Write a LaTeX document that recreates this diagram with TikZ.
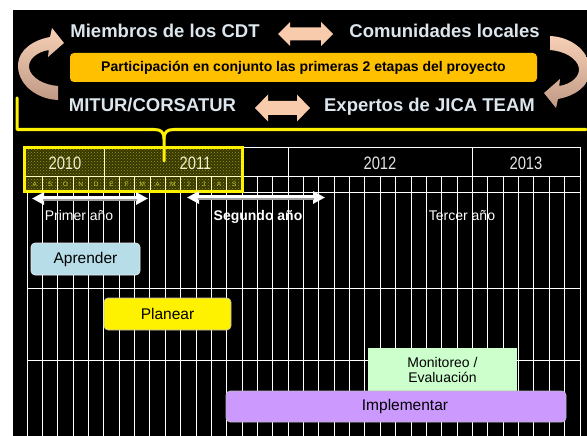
\documentclass[tikz,border=0pt]{standalone}
\usepackage{fontspec}
\setmainfont{Liberation Sans}
\newfontfamily\narrowfont[FakeStretch=0.82]{Liberation Sans}
\usetikzlibrary{patterns,arrows.meta}
\definecolor{hdrtext}{HTML}{DCE6EC}
\definecolor{peachlt}{HTML}{F6CFB5}
\definecolor{tanc}{HTML}{C09A85}
\definecolor{peach}{HTML}{F8CBAD}
\definecolor{goldbox}{HTML}{FFC000}
\definecolor{aprcol}{HTML}{B7DEE8}
\definecolor{moncol}{HTML}{CCFFCC}
\definecolor{impcol}{HTML}{CC99FF}
\definecolor{olivebg}{RGB}{55,55,0}
\definecolor{dotcol}{RGB}{150,150,20}
\definecolor{monthcol}{RGB}{205,205,50}
\definecolor{yrpale}{RGB}{240,240,205}
\tikzset{
  hdr/.style={font=\bfseries\fontsize{18.5}{20}\selectfont, text=hdrtext, inner sep=0pt, anchor=base},
  gridline/.style={white, line width=0.9pt},
  innerline/.style={white!75!yellow, line width=0.6pt},
  yearlbl/.style={font=\narrowfont\fontsize{18}{18}\selectfont, inner sep=0pt},
  monthlbl/.style={font=\fontsize{6.5}{7}\selectfont, text=monthcol, inner sep=0pt},
  yrlabel/.style={font=\fontsize{14}{15}\selectfont, text=white, inner sep=0pt, anchor=base},
  taskbox/.style={rounded corners=4pt, draw=gray!55, line width=0.6pt, inner sep=0pt,
    font=\fontsize{15.5}{17}\selectfont, text=black},
  yrarrow/.style={white, line width=5pt, {Triangle[length=12pt,width=12pt]}-{Triangle[length=12pt,width=12pt]}},
  blockarrow/.style={fill=peach},
  curvearrow/.style={top color=peachlt, bottom color=tanc},
}
\begin{document}
\begin{tikzpicture}[x=1pt,y=-1pt]
\useasboundingbox (0,0) rectangle (587,436);
\fill[white] (0,0) rectangle (587,436);
\fill[black] (13,10) rectangle (587,436);

% ---------- grid ----------
\foreach \i in {0,...,36} {
  \draw[gridline] ({27+\i*15.361},176) -- ({27+\i*15.361},436);
}
\foreach \xx in {27,103.8,288.1,472.5,580} {
  \draw[gridline] (\xx,147) -- (\xx,176);
}
\foreach \yy in {147,176,192,288,360} {
  \draw[gridline] (27,\yy) -- (580,\yy);
}

% ---------- highlighted period (Aug 2010 - Sep 2011) ----------
\fill[olivebg] (24,147) rectangle (242,191);
\fill[pattern=crosshatch dots, pattern color=dotcol] (24,147) rectangle (242,191);
\foreach \i in {1,...,13} {
  \draw[innerline] ({27+\i*15.361},176) -- ({27+\i*15.361},191);
}
\draw[innerline] (103.8,147) -- (103.8,176);
\draw[innerline] (24,176) -- (242,176);
\draw[yellow, line width=3pt] (24,147) rectangle (242,191);

\foreach \m [count=\i from 0] in {A,S,O,N,D,E,F,M,A,M,J,J,A,S} {
  \node[monthlbl] (m\i) at ({27+(\i+0.5)*15.361},184) {\m};
}

\node[yearlbl, text=yrpale] (y2010) at (65,163) {2010};
\node[yearlbl, text=yrpale] (y2011) at (195.5,163) {2011};
\node[yearlbl, text=white!90!black] (y2012) at (380,163) {2012};
\node[yearlbl, text=white!90!black] (y2013) at (526,163) {2013};

% ---------- yellow brace ----------
\draw[yellow, line width=3pt, line join=round, line cap=round]
  (17,98) -- (17,129.5) -- (154,129.5) .. controls (161,129.5) and (164,132) .. (164,139) -- (164,161);
\draw[yellow, line width=3pt, line join=round, line cap=round]
  (164,139) .. controls (164,132) and (167,129.5) .. (174,129.5) -- (586,129.5);

% ---------- header texts ----------
\node[hdr] (cdt) at (165,38) {Miembros de los CDT};
\node[hdr] (com) at (444.5,38) {Comunidades locales};
\node[hdr] (mitur) at (152.5,112) {MITUR/CORSATUR};
\node[hdr] (jica) at (429.5,112) {Expertos de JICA TEAM};

\node[rounded corners=4pt, fill=goldbox, minimum width=467pt, minimum height=29pt, inner sep=0pt,
      font=\bfseries\fontsize{14}{15}\selectfont, text=black] (part) at (303.5,67.5)
  {Participación en conjunto las primeras 2 etapas del proyecto};

% block double arrows
\fill[blockarrow] (278,34) -- (290,22) -- (290,27.5) -- (321,27.5) -- (321,22) -- (333,34)
  -- (321,46) -- (321,40.5) -- (290,40.5) -- (290,46) -- cycle;
\fill[blockarrow] (255,108) -- (268,94.5) -- (268,101) -- (297,101) -- (297,94.5) -- (310,108)
  -- (297,121.5) -- (297,115) -- (268,115) -- (268,121.5) -- cycle;

% curved arrows
\shade[curvearrow] (58,100) .. controls (35,99) and (17,83) .. (18,64)
  .. controls (19,50) and (33,40) .. (50,37) -- (52,28) -- (64,43) -- (48,57) -- (48.8,50)
  .. controls (36,52) and (28,60) .. (29,68) .. controls (31,78) and (44,85) .. (58,86) -- cycle;
\begin{scope}[rotate around={180:(304,68)}]
\shade[curvearrow] (58,100) .. controls (35,99) and (17,83) .. (18,64)
  .. controls (19,50) and (33,40) .. (50,37) -- (52,28) -- (64,43) -- (48,57) -- (48.8,50)
  .. controls (36,52) and (28,60) .. (29,68) .. controls (31,78) and (44,85) .. (58,86) -- cycle;
\end{scope}

% ---------- year arrows ----------
\coordinate (p1l) at (32,198.5);
\coordinate (p1r) at (148,198.5);
\coordinate (p2l) at (187,197.5);
\coordinate (p2r) at (325,197.5);
\draw[yrarrow] (p1l) -- (p1r);
\draw[gray!75, line width=2.2pt] ([xshift=11pt,yshift=-1.5pt]p1l) -- ([xshift=-11pt,yshift=-1.5pt]p1r);
\draw[yrarrow] (p2l) -- (p2r);
\draw[gray!75, line width=2.2pt] ([xshift=11pt,yshift=-1.5pt]p2l) -- ([xshift=-11pt,yshift=-1.5pt]p2r);

\node[yrlabel] (primer) at (79,220) {Primer año};
\node[yrlabel, font=\bfseries\fontsize{14}{15}\selectfont] (segundo) at (258,220) {Segundo año};
\node[yrlabel] (tercer) at (462,220) {Tercer año};

% ---------- tasks ----------
\node[taskbox, fill=aprcol, draw=white!85!gray, minimum width=109pt, minimum height=32pt] (aprender) at (85.5,259) {Aprender};
\node[taskbox, fill=yellow, minimum width=127pt, minimum height=32pt] (planear) at (167.5,314) {Planear};
\node[fill=moncol, minimum width=149pt, minimum height=43pt, inner sep=0pt, align=center,
      font=\fontsize{14}{15}\selectfont, text=black] (monitoreo) at (442.5,369.5) {Monitoreo /\\Evaluación};
\node[taskbox, fill=impcol, minimum width=340pt, minimum height=31pt] (implementar) at (396,406.5) {\hspace*{18pt}Implementar};
\end{tikzpicture}
\end{document}
